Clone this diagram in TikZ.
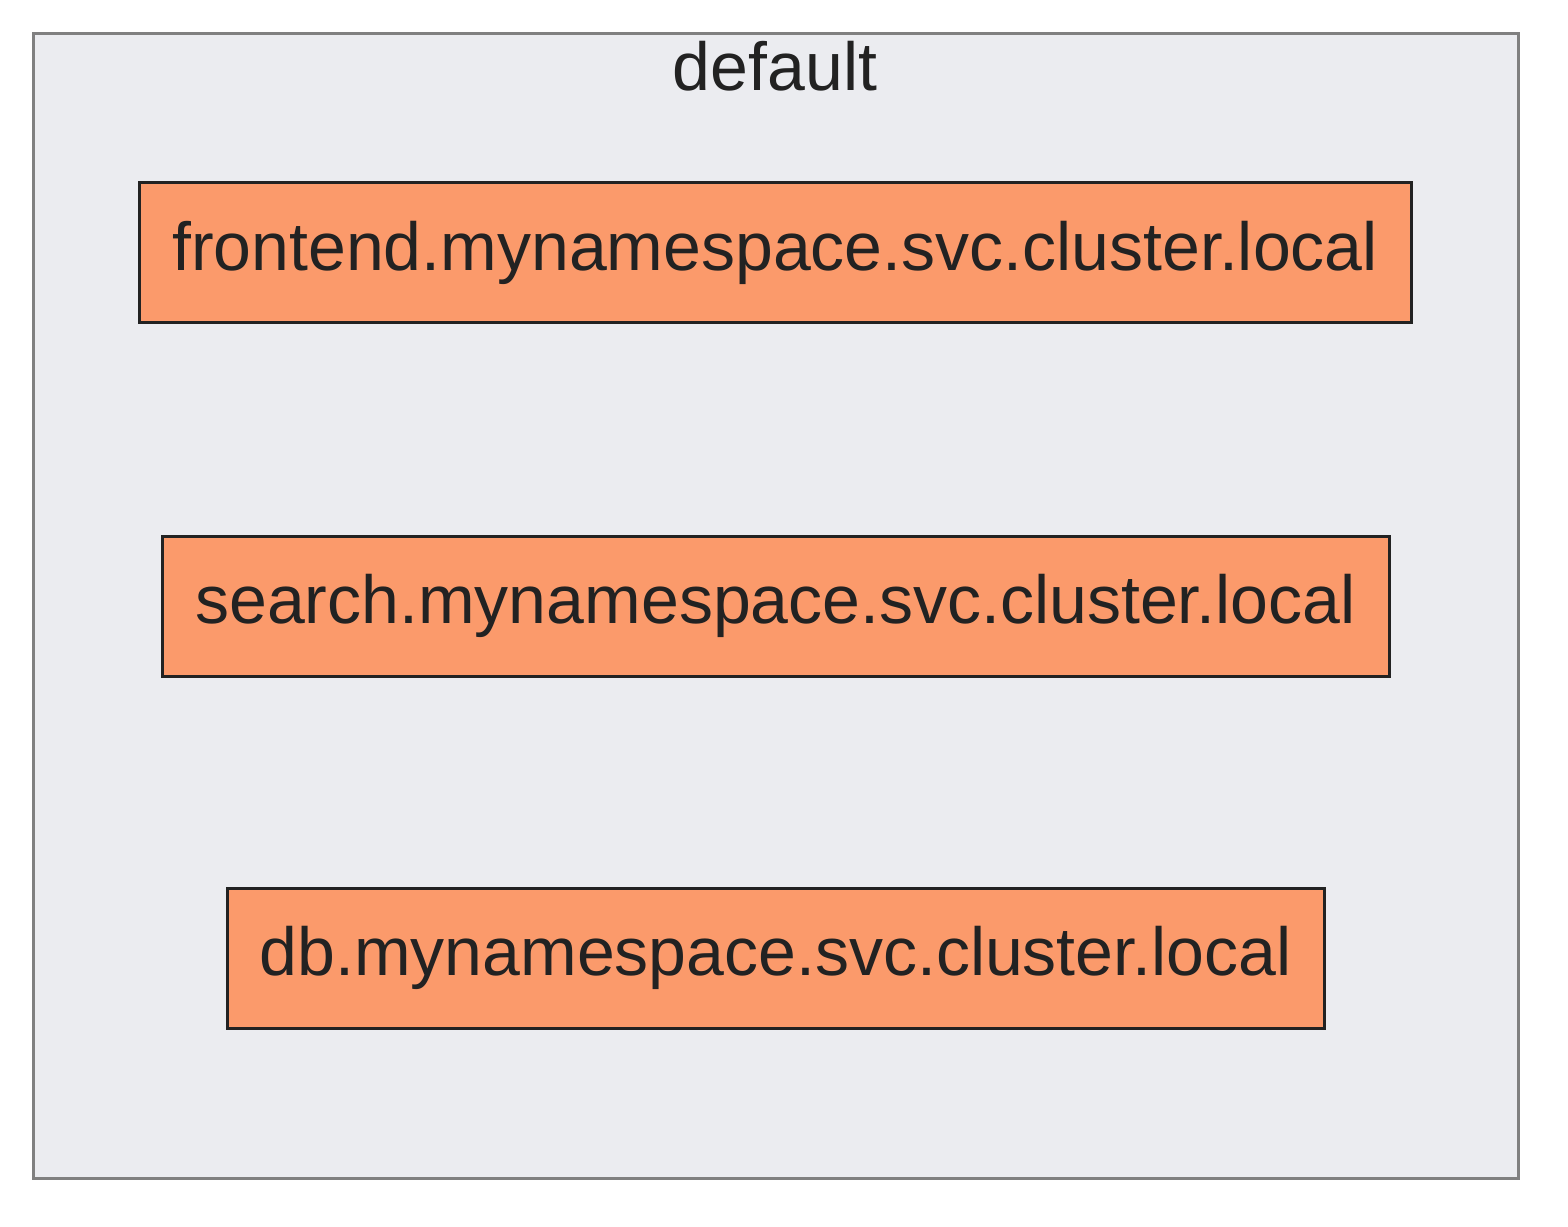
\documentclass[tikz,border=0pt]{standalone}
\usepackage{fontspec}
\setmainfont{Liberation Sans}
\definecolor{bgc}{HTML}{EBECF0}
\definecolor{framec}{HTML}{808080}
\definecolor{nodec}{HTML}{FB9A6B}
\definecolor{inkc}{HTML}{222222}
\begin{document}
\begin{tikzpicture}[x=0.5pt,y=-0.5pt,
  svc/.style={draw=inkc,line width=1.5pt,fill=nodec,text=inkc,inner sep=0pt,
    minimum height=70pt,font=\fontsize{34}{40}\selectfont},
  grp/.style={draw=framec,line width=1.5pt,fill=bgc}]
\useasboundingbox (0,0) rectangle (1568,1226);
\draw[grp] (33,33) rectangle (1518,1178);
\node[text=inkc,font=\fontsize{34}{40}\selectfont,anchor=base] (title) at (775,90) {default};
\node[svc,minimum width=636pt] (frontend) at (775,252.5) {frontend.mynamespace.svc.cluster.local};
\node[svc,minimum width=613.5pt] (search) at (775.5,606) {search.mynamespace.svc.cluster.local};
\node[svc,minimum width=548.5pt] (db) at (775.5,958) {db.mynamespace.svc.cluster.local};
\end{tikzpicture}
\end{document}
